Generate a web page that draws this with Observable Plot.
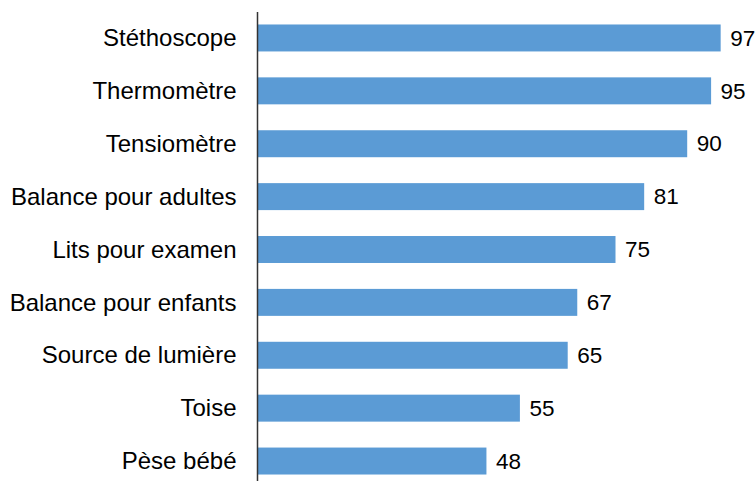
<!DOCTYPE html>
<html>
<head>
<meta charset="utf-8">
<script src="https://cdn.jsdelivr.net/npm/d3@7"></script>
<script src="https://cdn.jsdelivr.net/npm/@observablehq/plot@0.6"></script>
<style>
  html, body { margin: 0; padding: 0; background: #fff; }
</style>
</head>
<body>
<div id="chart"></div>
<script>
const categories = ["Stéthoscope", "Thermomètre", "Tensiomètre", "Balance pour adultes", "Lits pour examen", "Balance pour enfants", "Source de lumière", "Toise", "Pèse bébé"];
const values = [97, 95, 90, 81, 75, 67, 65, 55, 48];

const data = categories.map((c, i) => ({category: c, value: values[i]}));

const chart = Plot.plot({
  width: 756,
  height: 481,
  marginLeft: 257,
  marginRight: 21,
  marginTop: 12,
  marginBottom: 0,
  style: {fontFamily: "Liberation Sans, Arial, sans-serif", fontSize: "20px", background: "#fff", overflow: "hidden"},
  x: {domain: [0, 100], axis: null},
  y: {domain: categories, range: [12, 487], paddingInner: 0.49, paddingOuter: 0.236, round: false, axis: null},
  marks: [
    Plot.barX(data, {y: "category", x: "value", fill: "#5B9BD5"}),
    Plot.text(data, {y: "category", x: 0, text: "category", textAnchor: "end", dx: -21, fill: "#000", fontSize: 24}),
    Plot.text(data, {y: "category", x: "value", text: d => String(d.value), textAnchor: "start", dx: 9, fill: "#000", fontSize: 22.5}),
    Plot.ruleX([0], {stroke: "#333", strokeWidth: 1.5})
  ]
});
document.getElementById("chart").appendChild(chart);
</script>
</body>
</html>
